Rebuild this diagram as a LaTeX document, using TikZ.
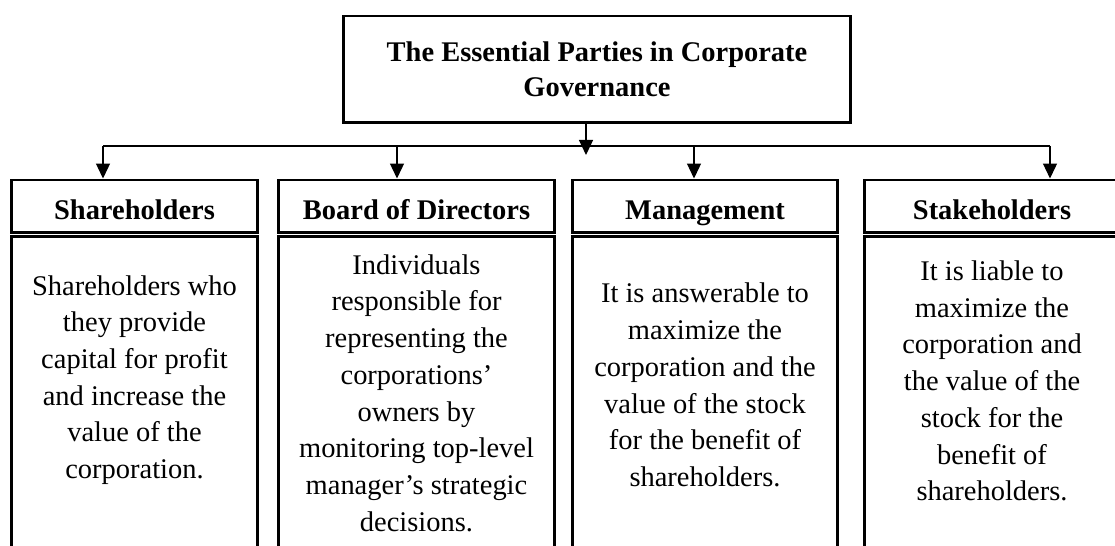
\documentclass[tikz,border=0pt]{standalone}
\usepackage{fontspec}
\setmainfont{Liberation Serif}
\usetikzlibrary{arrows.meta}

\begin{document}
\begin{tikzpicture}[x=0.02cm, y=-0.02cm,
                    ttl/.style={draw, line width=1.7pt, align=center, inner sep=0pt, minimum width=10.16cm, minimum height=2.14cm, font=\fontsize{16.2}{19.9}\selectfont\bfseries},
                    head/.style={draw, line width=1.7pt, align=center, inner sep=0pt, minimum height=1.06cm, text height=15.5pt, text depth=0.9pt, font=\fontsize{16.2}{19.9}\selectfont\bfseries},
                    body/.style={draw, line width=1.7pt, inner sep=0pt, minimum height=6.68cm},
                    txt/.style={align=center, inner sep=0pt, font=\fontsize{16.2}{20.9}\selectfont},
                    conn/.style={line width=0.75pt},
                    arr/.style={conn, -{Triangle[length=0.3cm, width=0.28cm]}}]
        \useasboundingbox (0,0) rectangle (1115,546);
        \node[ttl] (top) at (597,69.5) {The Essential Parties in Corporate\\Governance};
        % the four parties, header above an open-ended body
        \node[head, minimum width=4.94cm] (shh) at (134.5,206.5) {Shareholders};
        \node[head, minimum width=5.54cm] (bod) at (416.5,206.5) {Board of Directors};
        \node[head, minimum width=5.32cm] (man) at (705,206.5) {Management};
        \node[head, minimum width=5.12cm] (stk) at (992,206.5) {Stakeholders};
        \node[body, minimum width=4.94cm] (shhb) at (134.5,403) {};
        \node[body, minimum width=5.54cm] (bodb) at (416.5,403) {};
        \node[body, minimum width=5.32cm] (manb) at (705,403) {};
        \node[body, minimum width=5.12cm] (stkb) at (992,403) {};
        \node[txt] (shht) at (134.5,380) {Shareholders who\\they provide\\capital for profit\\and increase the\\value of the\\corporation.};
        \node[txt] (bodt) at (416.5,393) {Individuals\\responsible for\\representing the\\corporations'\\owners by\\monitoring top-level\\manager's strategic\\decisions.};
        \node[txt] (mant) at (705,385) {It is answerable to\\maximize the\\corporation and the\\value of the stock\\for the benefit of\\shareholders.};
        \node[txt] (stkt) at (992,381) {It is liable to\\maximize the\\corporation and\\the value of the\\stock for the\\benefit of\\shareholders.};
        % split point and drop points on the bus
        \coordinate (split) at (586,155);
        \coordinate (d1) at (103,146);
        \coordinate (d2) at (397,146);
        \coordinate (d3) at (694,146);
        \coordinate (d4) at (1050,146);
        \draw[conn] (d1) -- (d4);
        \draw[arr] (top.south -| split) -- (split);
        \draw[arr] (d1) -- (d1 |- shh.north);
        \draw[arr] (d2) -- (d2 |- bod.north);
        \draw[arr] (d3) -- (d3 |- man.north);
        \draw[arr] (d4) -- (d4 |- stk.north);
    \end{tikzpicture}
\end{document}
